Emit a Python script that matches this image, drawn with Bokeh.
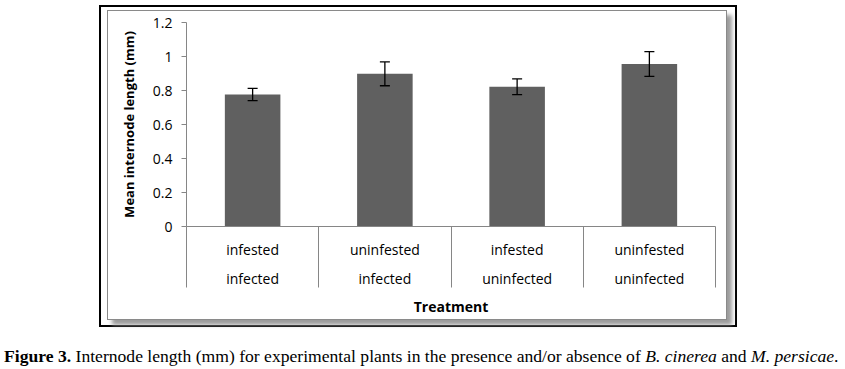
from bokeh.plotting import figure
from bokeh.models import (ColumnDataSource, Whisker, TeeHead, LinearAxis, FixedTicker,
                          Range1d, Div, CustomJSTickFormatter)
from bokeh.layouts import column
from bokeh.embed import file_html
from bokeh.resources import INLINE

# ---- data ----
row1_labels = ["infested", "uninfested", "infested", "uninfested"]
row2_labels = ["infected", "infected", "uninfected", "uninfected"]
means = [0.776, 0.898, 0.822, 0.956]
errors = [0.036, 0.070, 0.046, 0.073]
y_ticks = [0, 0.2, 0.4, 0.6, 0.8, 1.0, 1.2]
y_tick_labels = ["0", "0.2", "0.4", "0.6", "0.8", "1", "1.2"]
x_title = "Treatment"
y_title = "Mean internode length (mm)"
caption_html = ('<b>Figure 3.</b> Internode length (mm) for experimental plants in the presence '
                'and/or absence of <i>B. cinerea</i> and <i>M. persicae</i>.')

n = len(means)
xs = [i + 0.5 for i in range(n)]
src = ColumnDataSource(dict(
    x=xs, top=means,
    upper=[m + e for m, e in zip(means, errors)],
    lower=[m - e for m, e in zip(means, errors)],
))

AX = "#868686"
FONT = "Open Sans"

p = figure(width=620, height=310, x_range=Range1d(0, n), y_range=Range1d(0, y_ticks[-1]),
           output_backend="svg", toolbar_location=None,
           x_axis_location=None, y_axis_location=None,
           min_border_left=78, min_border_right=13, min_border_top=11, min_border_bottom=95,
           styles={"border": "1px solid #8a8a8a", "box-shadow": "5px 5px 4px #9c9c9c",
                   "background": "white"})
p.outline_line_color = None
p.background_fill_color = "white"
p.border_fill_color = "white"
p.grid.grid_line_color = None

def tick_fmt(tvals, labels):
    return CustomJSTickFormatter(args=dict(tvals=tvals, labs=labels), code="""
        let best = 0, bd = 1e9;
        for (let i = 0; i < tvals.length; i++) {
            const d = Math.abs(tvals[i] - tick);
            if (d < bd) { bd = d; best = i; }
        }
        return labs[best];
    """)

# y axis
yax = LinearAxis(ticker=FixedTicker(ticks=y_ticks, minor_ticks=[]),
                 formatter=tick_fmt(y_ticks, y_tick_labels),
                 bounds=(0, y_ticks[-1]),
                 axis_label=y_title,
                 axis_label_text_font=FONT, axis_label_text_font_size="13px",
                 axis_label_text_font_style="bold", axis_label_text_color="black",
                 axis_label_standoff=12,
                 major_label_text_font=FONT, major_label_text_font_size="14px",
                 major_label_text_color="black", major_label_standoff=9,
                 axis_line_color=AX, major_tick_line_color=AX,
                 major_tick_out=5, major_tick_in=0)
p.add_layout(yax, "left")

# first label row + divider ticks (drawn outward via negative "in" length)
axA = LinearAxis(ticker=FixedTicker(ticks=xs, minor_ticks=list(range(n + 1))),
                 formatter=tick_fmt(xs, row1_labels),
                 major_label_text_font=FONT, major_label_text_font_size="14px",
                 major_label_text_color="black", major_label_standoff=13,
                 axis_line_color=AX, major_tick_out=0, major_tick_in=0,
                 major_tick_line_color=None,
                 minor_tick_out=0, minor_tick_in=-61, minor_tick_line_color=AX)
p.add_layout(axA, "below")

# second label row + title
axB = LinearAxis(ticker=FixedTicker(ticks=xs, minor_ticks=[]),
                 formatter=tick_fmt(xs, row2_labels),
                 major_label_text_font=FONT, major_label_text_font_size="14px",
                 major_label_text_color="black", major_label_standoff=7,
                 axis_line_color=None, major_tick_out=0, major_tick_in=0,
                 major_tick_line_color=None, minor_tick_line_color=None,
                 axis_label=x_title, axis_label_text_font=FONT,
                 axis_label_text_font_size="14px", axis_label_text_font_style="bold",
                 axis_label_text_color="black", axis_label_standoff=6)
p.add_layout(axB, "below")

p.vbar(x="x", top="top", bottom=0, width=0.42, source=src,
       fill_color="#606060", line_color=None)

w = Whisker(base="x", upper="upper", lower="lower", source=src, level="annotation",
            line_color="black", line_width=1.3,
            upper_head=TeeHead(size=10, line_color="black", line_width=1.3),
            lower_head=TeeHead(size=10, line_color="black", line_width=1.3))
p.add_layout(w)

box = column(p, styles={"border": "2px solid black", "padding": "3px 8px 5px 6px",
                        "background": "white"},
             margin=(5, 0, 0, 99))

cap = Div(text=caption_html, width=840, height=16,
          styles={"font-family": "'Liberation Serif', 'Times New Roman', serif",
                  "font-size": "17.6px", "line-height": "16px", "white-space": "nowrap",
                  "color": "black"},
          margin=(21, 0, -10, 4))

root = column(box, cap)

open("out.html", "w").write(file_html(root, INLINE))
